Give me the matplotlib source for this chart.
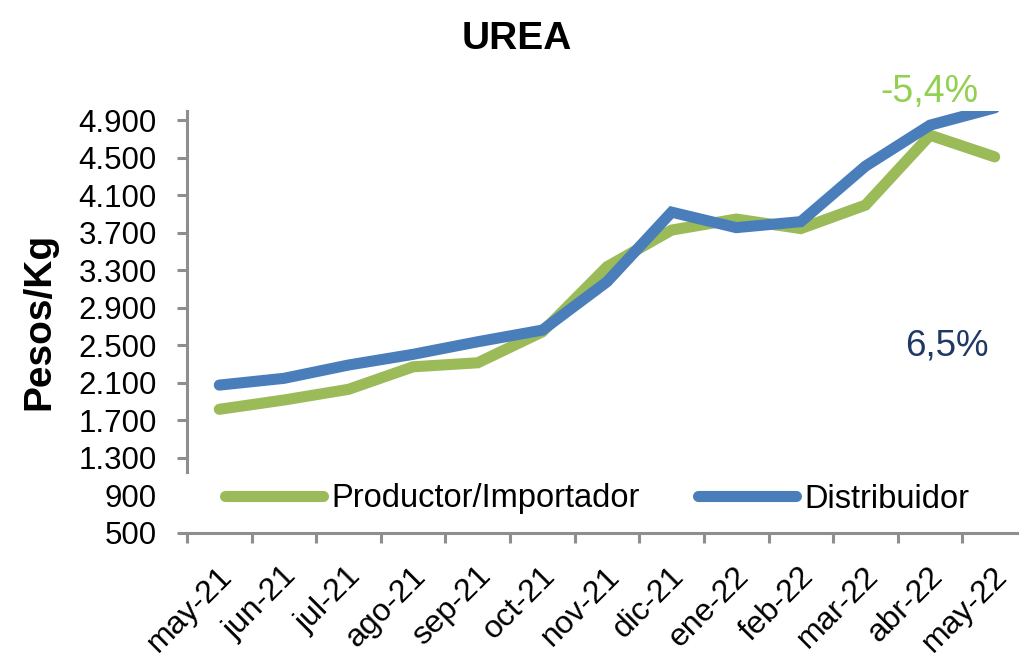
import numpy as np
import matplotlib
matplotlib.use("Agg")
import matplotlib.pyplot as plt
from matplotlib.transforms import ScaledTranslation

plt.rcParams['font.family'] = ['Liberation Sans', 'DejaVu Sans']

# datos (pesos por kg)
meses = ["may-21", "jun-21", "jul-21", "ago-21", "sep-21", "oct-21", "nov-21",
         "dic-21", "ene-22", "feb-22", "mar-22", "abr-22", "may-22"]
productor = [1818, 1917, 2031, 2271, 2314, 2644, 3337, 3728, 3845, 3744, 3994, 4739, 4508]
distribuidor = [2076, 2148, 2290, 2404, 2538, 2662, 3177, 3919, 3754, 3818, 4409, 4846, 5030]
y_ticks = [500, 900, 1300, 1700, 2100, 2500, 2900, 3300, 3700, 4100, 4500, 4900]
y_labels = [f"{v:,}".replace(",", ".") for v in y_ticks]

verde = "#9BBB59"
azul = "#4A7EBB"
gris = "#8E8E8E"

W, H = 1020, 653
fig = plt.figure(figsize=(W / 100, H / 100), dpi=100)
ax = fig.add_axes([187 / W, 120 / H, 840 / W, 422.3 / H])

x = np.arange(len(meses))
ax.plot(x, productor, color=verde, lw=8, solid_capstyle="round",
        solid_joinstyle="miter", label="Productor/Importador")
ax.plot(x, distribuidor, color=azul, lw=8, solid_capstyle="round",
        solid_joinstyle="miter", label="Distribuidor")

ax.set_xlim(-0.5, len(meses) - 0.5)
ax.set_ylim(500, 5000)

# ejes
for s in ["top", "right"]:
    ax.spines[s].set_visible(False)
for s in ["left", "bottom"]:
    ax.spines[s].set_color(gris)
    ax.spines[s].set_linewidth(2.2)
ax.spines["left"].set_bounds(1150, 5000)

ax.set_yticks(y_ticks, y_labels)
ax.tick_params(axis="y", length=7.2, width=2.2, color=gris, pad=14.4, labelsize=22.5)
ax.yaxis.get_major_ticks()[1].tick1line.set_visible(False)

ax.set_xticks(x, meses)
ax.set_xticks(np.arange(-0.5, len(meses), 1), minor=True)
ax.tick_params(axis="x", which="major", length=0, pad=32, labelsize=23)
ax.tick_params(axis="x", which="minor", length=7.2, width=2.2, color=gris)
off = ScaledTranslation(0.14, 0, fig.dpi_scale_trans)
for lab in ax.get_xticklabels():
    lab.set_rotation(45)
    lab.set_ha("right")
    lab.set_va("baseline")
    lab.set_rotation_mode("anchor")
    lab.set_transform(lab.get_transform() + off)

ax.legend(loc="center left", bbox_to_anchor=(225 / W, 1 - 499 / H),
          bbox_transform=fig.transFigure, ncol=2, frameon=False, fontsize=23.5,
          borderpad=0, borderaxespad=0, handlelength=3.0, handletextpad=0.25,
          columnspacing=1.8)

fig.text(517 / W, 1 - 49 / H, "UREA", ha="center", va="baseline",
         fontsize=28, fontweight="heavy")
fig.text(39 / W, 1 - 321.5 / H, "Pesos/Kg", rotation=90, ha="center", va="center",
         fontsize=28, fontweight="bold")
fig.text(929 / W, 1 - 102 / H, "-5,4%", ha="center", va="baseline",
         fontsize=27, color="#92D050")
fig.text(947 / W, 1 - 355 / H, "6,5%", ha="center", va="baseline",
         fontsize=26.5, color="#1F3864")

fig.savefig("out.png", dpi=100)
